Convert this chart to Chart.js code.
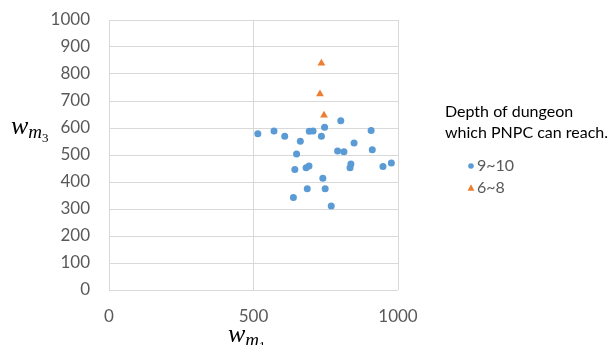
<!DOCTYPE html>
<html>
<head>
<meta charset="utf-8">
<script src="https://cdn.jsdelivr.net/npm/chart.js@4/dist/chart.umd.min.js"></script>
<style>
  html, body { margin: 0; padding: 0; background: #fff; }
  #wrap { width: 613px; height: 345px; }
</style>
</head>
<body>
<div id="wrap"><canvas id="c" width="613" height="345"></canvas></div>
<script>
// ---- data ----
const legendTitle = ["Depth of dungeon", "which PNPC can reach."];
const seriesNames = ["9~10", "6~8"];
const deep_x = [515, 571, 608, 662, 693, 706, 746, 735, 649, 643, 682, 692, 740, 686, 748, 638, 769, 802, 907, 848, 791, 813, 911, 837, 834, 948, 977];
const deep_y = [579, 589, 569, 551, 588, 589, 603, 569, 504, 446, 453, 459, 414, 375, 375, 343, 311, 627, 591, 544, 515, 512, 519, 467, 453, 457, 470];
const shallow_x = [735, 730, 744];
const shallow_y = [840, 726, 647];
const xTicks = [0, 500, 1000];
const yTicks = [0, 100, 200, 300, 400, 500, 600, 700, 800, 900, 1000];

const toPts = (xs, ys) => xs.map((x, i) => ({ x: x, y: ys[i] }));

const BLUE = '#5b9bd5', ORANGE = '#ed7d31', GRID = '#d9d9d9', TICK = '#595959';

function drawMath(ctx, x, y, sub, subsub) {
  ctx.save();
  ctx.fillStyle = '#000';
  ctx.textBaseline = 'alphabetic';
  ctx.textAlign = 'left';
  ctx.font = 'italic 26px "Liberation Serif"';
  ctx.fillText('w', x, y);
  let w = ctx.measureText('w').width;
  ctx.font = 'italic 19px "Liberation Serif"';
  ctx.fillText(sub, x + w, y + 4);
  let w2 = ctx.measureText(sub).width;
  ctx.font = '13px "Liberation Serif"';
  ctx.fillText(subsub, x + w + w2, y + 8);
  ctx.restore();
}

const decorPlugin = {
  id: 'decor',
  afterDraw(chart) {
    const ctx = chart.ctx;
    drawMath(ctx, 11, 134, 'm', '3');
    drawMath(ctx, 228, 342, 'm', '1');
    ctx.save();
    ctx.font = '16px Lato';
    ctx.fillStyle = '#000';
    ctx.textBaseline = 'middle';
    ctx.textAlign = 'left';
    legendTitle.forEach((t, i) => ctx.fillText(t, 445, 112 + i * 21));
    chart.data.datasets.forEach((ds, i) => {
      const cy = 166 + i * 22;
      const cx = 471;
      ctx.fillStyle = ds.backgroundColor;
      ctx.beginPath();
      if (ds.pointStyle === 'triangle') {
        const r = 3.4;
        ctx.moveTo(cx, cy - r * 1.1);
        ctx.lineTo(cx + r, cy + r * 0.8);
        ctx.lineTo(cx - r, cy + r * 0.8);
        ctx.closePath();
      } else {
        ctx.arc(cx, cy, 2.8, 0, Math.PI * 2);
      }
      ctx.fill();
      ctx.fillStyle = TICK;
      ctx.fillText(ds.label, 477, cy);
    });
    ctx.restore();
  }
};

new Chart(document.getElementById('c'), {
  type: 'scatter',
  data: {
    datasets: [
      { label: seriesNames[0], data: toPts(deep_x, deep_y), backgroundColor: BLUE, borderColor: BLUE,
        pointStyle: 'circle', pointRadius: 3.5, pointBorderWidth: 0 },
      { label: seriesNames[1], data: toPts(shallow_x, shallow_y), backgroundColor: ORANGE, borderColor: ORANGE,
        pointStyle: 'triangle', pointRadius: 4.5, pointBorderWidth: 0 }
    ]
  },
  options: {
    responsive: false,
    animation: false,
    devicePixelRatio: 1,
    layout: { padding: { left: 0, right: 215, top: 20, bottom: 0 } },
    plugins: { legend: { display: false }, tooltip: { enabled: false } },
    scales: {
      x: {
        type: 'linear', min: 0, max: 1000,
        afterBuildTicks: s => { s.ticks = xTicks.map(v => ({ value: v })); },
        afterFit: s => { s.height = 55; s.paddingLeft = 0; s.paddingRight = 0; },
        grid: { color: GRID, drawTicks: false, lineWidth: 1 },
        border: { display: false },
        ticks: { color: TICK, font: { family: 'Lato', size: 17 }, padding: 16, maxRotation: 0,
                 callback: v => String(v) }
      },
      y: {
        type: 'linear', min: 0, max: 1000,
        afterBuildTicks: s => { s.ticks = yTicks.map(v => ({ value: v })); },
        afterFit: s => { s.width = 109; s.paddingTop = 0; s.paddingBottom = 0; },
        grid: { color: GRID, drawTicks: false, lineWidth: 1 },
        border: { display: false },
        ticks: { color: TICK, font: { family: 'Lato', size: 17 }, padding: 19,
                 callback: v => String(v) }
      }
    }
  },
  plugins: [decorPlugin]
});
</script>
</body>
</html>
